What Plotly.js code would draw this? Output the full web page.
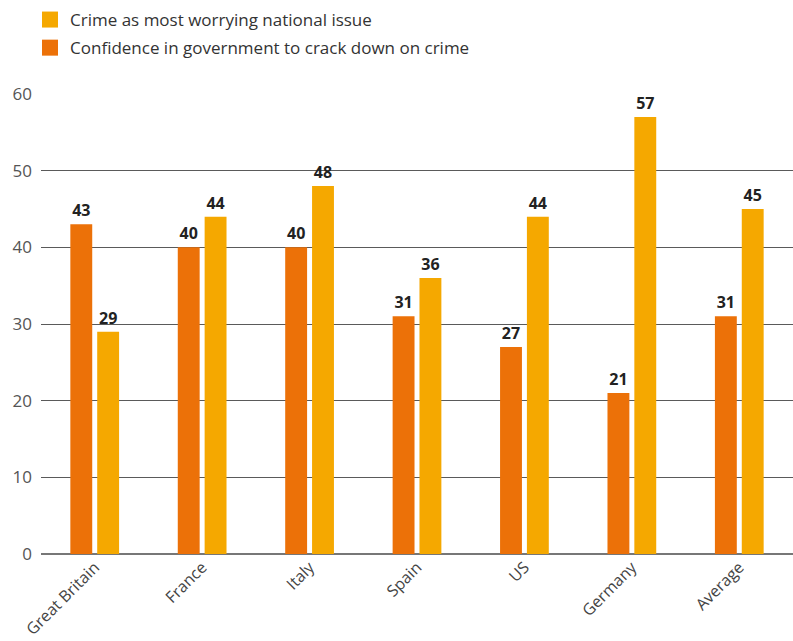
<!DOCTYPE html>
<html>
<head>
<meta charset="utf-8">
<script src="https://cdn.plot.ly/plotly-3.0.1.min.js"></script>
<style>html,body{margin:0;padding:0;background:#fff;}#chart{width:793px;height:641px;}</style>
</head>
<body>
<div id="chart"></div>
<script>
const categories = ["Great Britain", "France", "Italy", "Spain", "US", "Germany", "Average"];
const confidence = [43, 40, 40, 31, 27, 21, 31];
const crime = [29, 44, 48, 36, 44, 57, 45];
const seriesNames = ["Crime as most worrying national issue", "Confidence in government to crack down on crime"];
const yTicks = [0, 10, 20, 30, 40, 50, 60];

const orange = "#EC7108";
const yellow = "#F5A800";
const labelFont = {family: "Open Sans, sans-serif", size: 16, color: "#222", weight: "bold"};

const traces = [
  {type: "bar", x: categories, y: confidence, marker: {color: orange}, showlegend: false,
   text: confidence.map(String), textposition: "outside", textfont: labelFont, cliponaxis: false, hoverinfo: "skip"},
  {type: "bar", x: categories, y: crime, marker: {color: yellow}, showlegend: false,
   text: crime.map(String), textposition: "outside", textfont: labelFont, cliponaxis: false, hoverinfo: "skip"},
  {type: "scatter", mode: "markers", x: [null], y: [null], name: seriesNames[0], legendgroup: "a",
   marker: {symbol: "square", size: 20, color: yellow}},
  {type: "scatter", mode: "markers", x: [null], y: [null], name: seriesNames[1], legendgroup: "b",
   marker: {symbol: "square", size: 20, color: orange}}
];

const layout = {
  width: 793, height: 641,
  margin: {l: 41, r: 0, t: 94, b: 87, pad: 0},
  paper_bgcolor: "#fff", plot_bgcolor: "#fff",
  barmode: "group", bargap: 0.5, bargroupgap: 0.185,
  font: {family: "Open Sans, sans-serif", color: "#444"},
  showlegend: true,
  legend: {x: -0.0146, xanchor: "left", y: 1.2, yanchor: "top", traceorder: "grouped", tracegroupgap: 3,
           font: {size: 17, color: "#333"}, bgcolor: "rgba(0,0,0,0)"},
  xaxis: {type: "category", range: [-0.5, 6.5], tickangle: -45, showgrid: false, zeroline: false,
          showline: false, ticks: "", ticklabelstandoff: 0, tickfont: {size: 16, color: "#444"}},
  yaxis: {range: [0, 60], tickvals: yTicks, showgrid: true, gridcolor: "#5a5a5a", gridwidth: 1,
          zeroline: true, zerolinecolor: "#777", zerolinewidth: 2, showline: false, ticks: "",
          ticklabelstandoff: 8, tickfont: {size: 17, color: "#555"}}
};

Plotly.newPlot("chart", traces, layout, {displayModeBar: false, staticPlot: true});
</script>
</body>
</html>
